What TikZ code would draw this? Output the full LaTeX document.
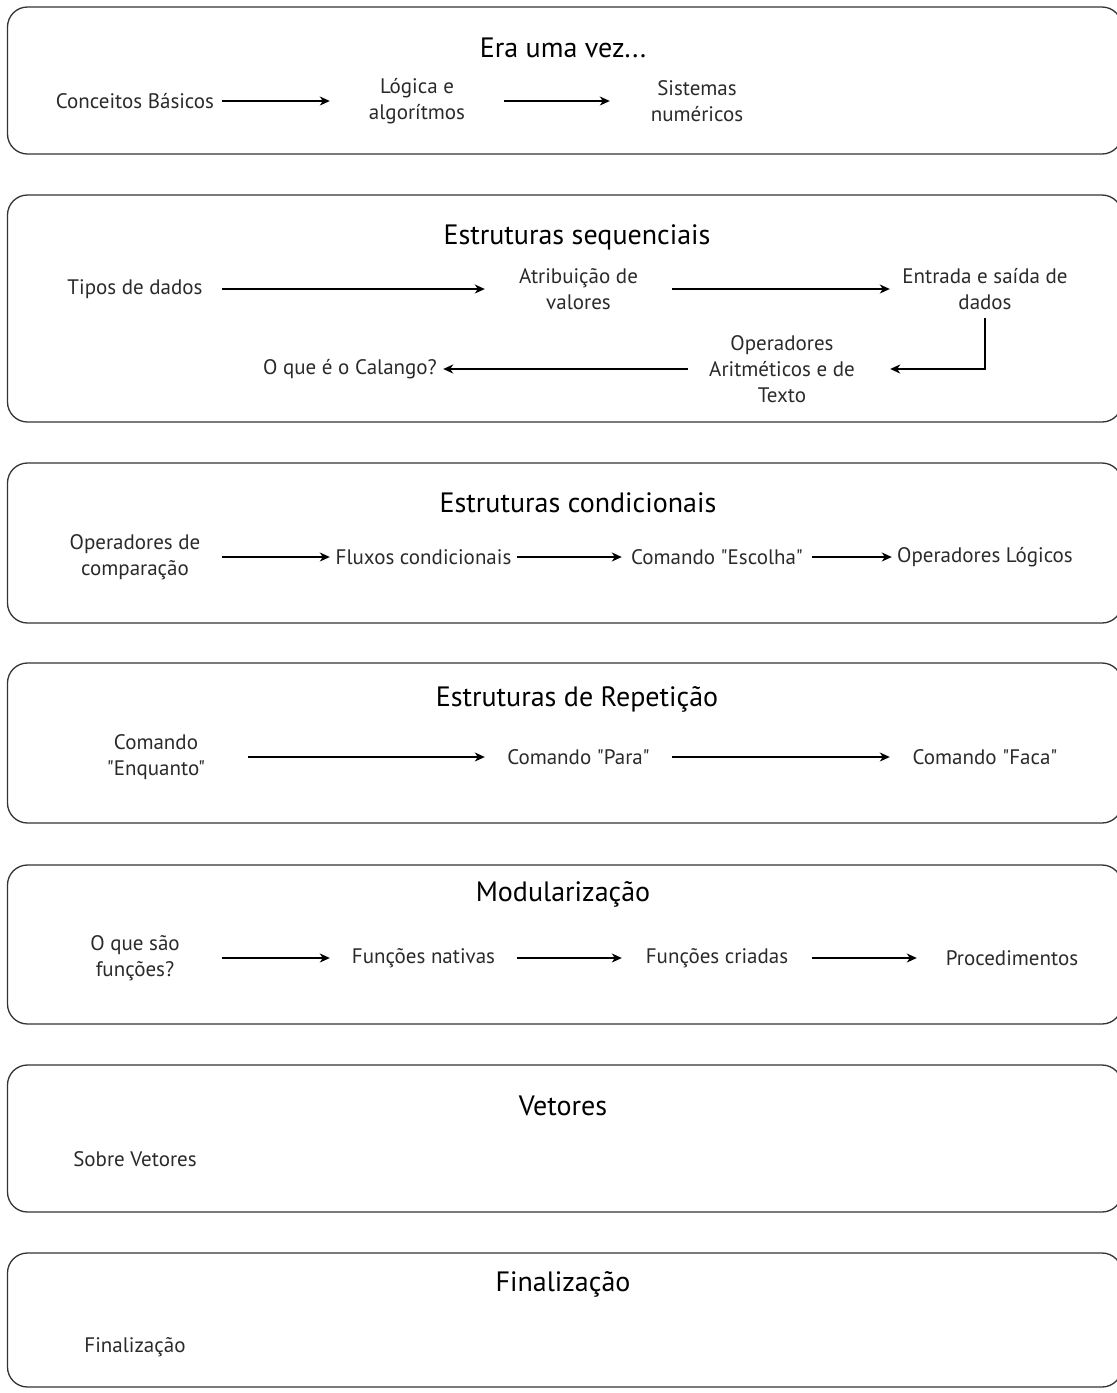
\documentclass[tikz,border=0pt]{standalone}
\usepackage{fontspec}
\setmainfont{PT Sans}[Ligatures=TeXOff]
\usetikzlibrary{arrows.meta}
\definecolor{frame}{HTML}{333333}
\definecolor{label}{HTML}{2A2A2A}

\begin{document}
\begin{tikzpicture}[x=1pt, y=-1pt,
  panel/.style={draw=frame, line width=1.3pt, rounded corners=20pt, inner sep=0pt,
                minimum width=1114.5pt},
  heading/.style={font=\fontsize{28}{32}\selectfont, text=black, inner sep=0pt},
  item/.style={font=\fontsize{21}{26}\selectfont, text=label, align=center,
               inner sep=0pt, minimum height=58pt, minimum width=#1},
  item/.default=174pt,
  arr/.style={draw=black, line width=1.4pt,
              -{Stealth[length=10pt, width=9pt, inset=3pt]}},
]
\useasboundingbox (0,0) rectangle (1117,1393);

% section frames
\node[panel, minimum height=147pt] (p1) at (564.75,80.5) {};
\node[panel, minimum height=227pt] (p2) at (564.75,308.5) {};
\node[panel, minimum height=160pt] (p3) at (564.75,543) {};
\node[panel, minimum height=160pt] (p4) at (564.75,743) {};
\node[panel, minimum height=159pt] (p5) at (564.75,944.5) {};
\node[panel, minimum height=147pt] (p6) at (564.75,1138.5) {};
\node[panel, minimum height=134pt] (p7) at (564.75,1320) {};

% section headings
\node[heading] (h1) at (563,48)   {Era uma vez...};
\node[heading] (h2) at (577,237)  {Estruturas sequenciais};
\node[heading] (h3) at (578,503)  {Estruturas condicionais};
\node[heading] (h4) at (577,699)  {Estruturas de Repetição};
\node[heading] (h5) at (563,894)  {Modularização};
\node[heading] (h6) at (563,1106) {Vetores};
\node[heading] (h7) at (563,1284) {Finalização};

% Era uma vez...
\node[item] (c11) at (135,101) {Conceitos Básicos};
\node[item] (c12) at (417,101) {Lógica e\\algorítmos};
\node[item] (c13) at (697,101) {Sistemas\\numéricos};
\draw[arr] (c11) -- (c12);
\draw[arr] (c12) -- (c13);

% Estruturas sequenciais
\node[item] (c21) at (135,289) {Tipos de dados};
\node[item=187pt] (c22) at (578.5,289) {Atribuição de\\valores};
\node[item=190pt] (c23) at (985,289) {Entrada e saída de\\dados};
\node[item=188pt] (c24) at (782,369) {Operadores\\Aritméticos e de\\Texto};
\node[item=186pt] (c25) at (350,369) {O que é o Calango?};
\draw[arr] (c21) -- (c22);
\draw[arr] (c22) -- (c23);
\draw[arr, shorten >=14pt] (c23.south) |- (c24.east);
\draw[arr] (c24) -- (c25);

% Estruturas condicionais
\node[item] (c31) at (135,557) {Operadores de\\comparação};
\node[item=187pt] (c32) at (423.5,557) {Fluxos condicionais};
\node[item=190pt] (c33) at (717,557) {Comando "Escolha"};
\node[item=186pt] (c34) at (985,557) {Operadores Lógicos};
\draw[arr] (c31) -- (c32);
\draw[arr] (c32) -- (c33);
\draw[arr] (c33) -- (c34);

% Estruturas de Repetição
\node[item=184pt] (c41) at (156,757) {Comando\\"Enquanto"};
\node[item=187pt] (c42) at (578.5,757) {Comando "Para"};
\node[item=190pt] (c43) at (985,757) {Comando "Faca"};
\draw[arr] (c41) -- (c42);
\draw[arr] (c42) -- (c43);

% Modularização
\node[item] (c51) at (135,958) {O que são\\funções?};
\node[item=187pt] (c52) at (423.5,958) {Funções nativas};
\node[item=190pt] (c53) at (717,958) {Funções criadas};
\node[item=190pt] (c54) at (1012,958) {Procedimentos};
\draw[arr] (c51) -- (c52);
\draw[arr] (c52) -- (c53);
\draw[arr] (c53) -- (c54);

% Vetores
\node[item] (c61) at (135,1159) {Sobre Vetores};

% Finalização
\node[item] (c71) at (135,1347) {Finalização};
\end{tikzpicture}
\end{document}
